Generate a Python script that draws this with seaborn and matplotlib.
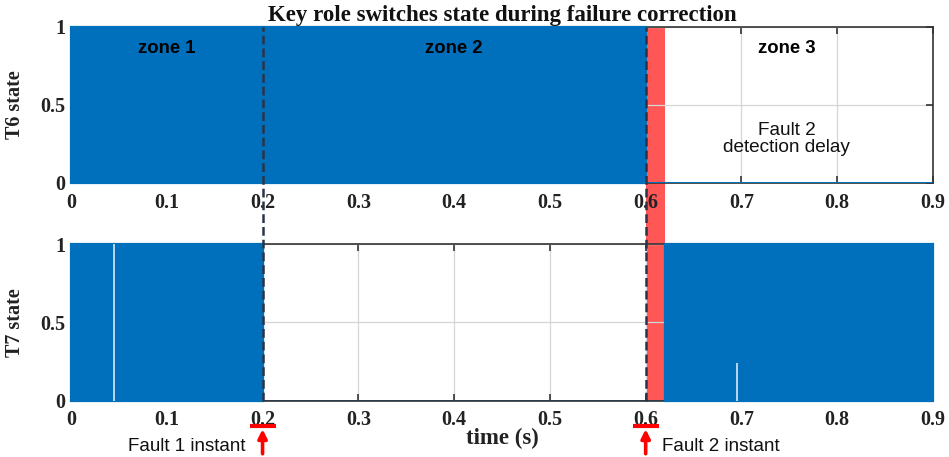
import matplotlib
matplotlib.use("Agg")
import matplotlib.pyplot as plt
import matplotlib.transforms as mtransforms
from matplotlib.patches import Rectangle
from matplotlib.lines import Line2D
import numpy as np
import pandas as pd
import seaborn as sns

# Switch states (step-post: value holds until the next time)
t6_time = [0.0, 0.6, 0.9]
t6_state = [1, 0, 0]
t7_time = [0.0, 0.2, 0.62, 0.9]
t7_state = [1, 0, 1, 1]
# Brief off-pulses of T7 inside its conducting intervals (time, height)
t7_gap_time = [0.045, 0.695]
t7_gap_level = [1.0, 0.24]

fault_times = [0.2, 0.6]
fault_labels = ["Fault 1 instant", "Fault 2 instant"]
detection_delay = 0.02

x_ticks = [0, 0.1, 0.2, 0.3, 0.4, 0.5, 0.6, 0.7, 0.8, 0.9]
x_tick_labels = ["0", "0.1", "0.2", "0.3", "0.4", "0.5", "0.6", "0.7", "0.8", "0.9"]
y_ticks = [0, 0.5, 1]
y_tick_labels = ["0", "0.5", "1"]

zone_names = ["zone 1", "zone 2", "zone 3"]
zone_x = [0.10, 0.40, 0.747]

BLUE = "#0070bc"
RED = "#ff5656"
DASH = "#2b3446"
SERIF = "Liberation Serif"
SANS = "Liberation Sans"

sns.set_style("white")
plt.rcParams["font.family"] = [SANS, "DejaVu Sans"]

W, H = 949, 457
fig = plt.figure(figsize=(W / 100, H / 100), dpi=100)
ax_top = fig.add_axes([71 / W, 1 - 183 / H, 862 / W, 156 / H])
ax_bot = fig.add_axes([71 / W, 1 - 400.5 / H, 862 / W, 156.5 / H])


def style_axes(ax, ylabel):
    ax.set_facecolor("none")
    ax.set_xlim(0, 0.9)
    ax.set_ylim(0, 1)
    ax.set_xticks(x_ticks)
    ax.set_xticklabels(x_tick_labels, fontfamily=SERIF, fontweight="bold",
                       fontsize=14.5, color="#222222")
    ax.set_yticks(y_ticks)
    ax.set_yticklabels(y_tick_labels, fontfamily=SERIF, fontweight="bold",
                       fontsize=14.5, color="#222222")
    ax.tick_params(axis="x", direction="in", top=True, bottom=True,
                   length=5, width=1.2, color="#333333", pad=7)
    ax.tick_params(axis="y", direction="in", left=True, right=True,
                   length=5, width=1.2, color="#333333", pad=4)
    ax.grid(True, color="#d6d6d6", linewidth=0.9)
    ax.set_axisbelow(True)
    for sp in ax.spines.values():
        sp.set_visible(True)
        sp.set_color("#333333")
        sp.set_linewidth(1.2)
    ax.set_xlabel("")
    ax.set_ylabel(ylabel, fontfamily=SERIF, fontweight="bold", fontsize=14.5,
                  color="#222222")
    ax.yaxis.set_label_coords(-0.053, 0.5)


def draw_state(ax, t, s, line_on_top):
    df = pd.DataFrame({"time": t, "state": s})
    # conducting intervals, taken from the step-post samples
    for i in range(len(t) - 1):
        if s[i] == 1:
            ax.axvspan(t[i], t[i + 1], ymin=0, ymax=1, facecolor=BLUE,
                       edgecolor=BLUE, linewidth=1.6, zorder=3, clip_on=False)
    sns.lineplot(data=df, x="time", y="state", drawstyle="steps-post",
                 color=BLUE, linewidth=1.4, ax=ax,
                 zorder=3.2 if line_on_top else 2.2, legend=False)


draw_state(ax_top, t6_time, t6_state, True)
draw_state(ax_bot, t7_time, t7_state, False)
ax_bot.vlines(t7_gap_time, 0, t7_gap_level, color="#c9dff1",
              linewidth=1.3, zorder=3.5)

style_axes(ax_top, "T6 state")
style_axes(ax_bot, "T7 state")

# Zone captions and detection-delay note
for name, zx in zip(zone_names, zone_x):
    ax_top.text(zx, 0.865, name, ha="center", va="center", fontsize=13.3,
                fontweight="bold", fontfamily=SANS, color="black", zorder=5)
ax_top.text(0.747, 0.28, "Fault 2\ndetection delay", ha="center",
            va="center", fontsize=13.7, fontfamily=SANS, color="#111111",
            linespacing=1.0, zorder=5)

# Detection-delay band and fault instants spanning both panels
tr = mtransforms.blended_transform_factory(ax_top.transData, fig.transFigure)
y_lo = 1 - 400.5 / H
y_hi = 1 - 27 / H
fig.add_artist(Rectangle((fault_times[1], y_lo), detection_delay, y_hi - y_lo,
                         transform=tr, facecolor=RED, edgecolor="none",
                         zorder=-1))
for ft in fault_times:
    fig.add_artist(Line2D([ft, ft], [y_lo, y_hi], transform=tr, color=DASH,
                          linewidth=1.8, linestyle=(0, (3.5, 1.6)), zorder=6))

# Fault markers under the time axis
btr = mtransforms.blended_transform_factory(ax_bot.transData, ax_bot.transAxes)
for ft in fault_times:
    ax_bot.plot([ft - 0.0136, ft + 0.0136], [-0.165, -0.165], color="red",
                linewidth=3, transform=btr, clip_on=False, solid_capstyle="butt")
    ax_bot.annotate("", xy=(ft, -0.183), xycoords=btr,
                    xytext=(ft, -0.34), textcoords=btr,
                    arrowprops=dict(arrowstyle="-|>", color="red", lw=2.6,
                                    mutation_scale=13, shrinkA=0, shrinkB=0))
ax_bot.text(0.1817, -0.294, fault_labels[0], transform=btr, ha="right",
            va="center", fontsize=13.5, fontfamily=SANS, color="#111111")
ax_bot.text(0.617, -0.297, fault_labels[1], transform=btr, ha="left",
            va="center", fontsize=13.5, fontfamily=SANS, color="#111111")

fig.text(502 / W, 1 - 438 / H, "time (s)", ha="center", va="center",
         fontfamily=SERIF, fontweight="bold", fontsize=16.5, color="#222222")
fig.text(502 / W, 1 - 15 / H, "Key role switches state during failure correction",
         ha="center", va="center", fontfamily=SERIF, fontweight="bold",
         fontsize=16.5, color="#111111")

fig.savefig("out.png", dpi=100)
